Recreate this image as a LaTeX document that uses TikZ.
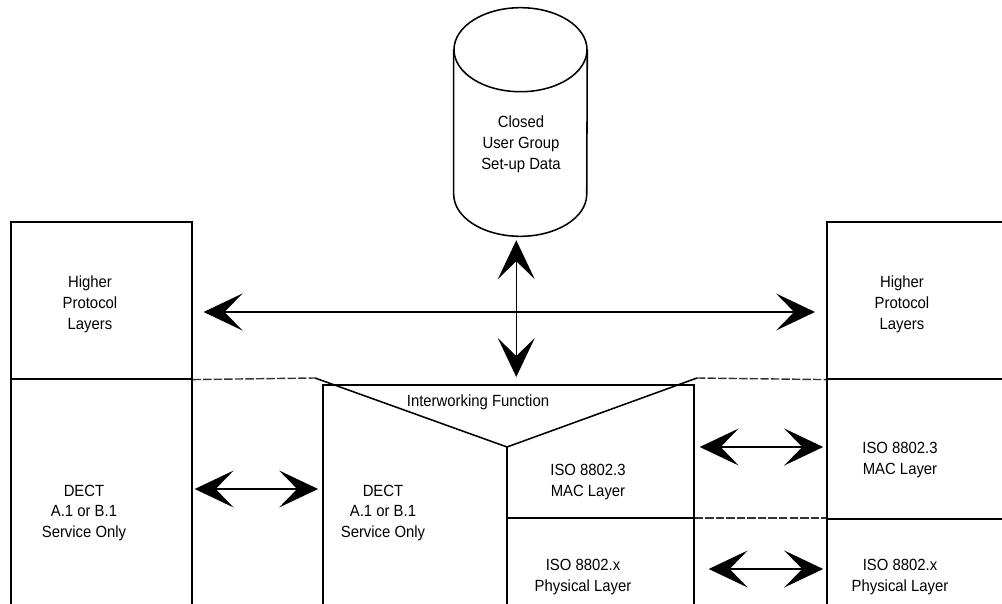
\documentclass[tikz,border=0pt]{standalone}
\usepackage{fontspec}
\setmainfont{Liberation Sans}[FakeStretch=0.92]
\usetikzlibrary{arrows.meta, positioning, shapes.geometric}

\begin{document}
\begin{tikzpicture}[
    x=0.025cm, y=-0.025cm,
    every node/.style={font=\fontsize{11.5}{14.9}\selectfont, align=center},
    cell/.style={rectangle, draw=black, line width=1.1pt, anchor=north west, inner sep=0pt},
    txt/.style={inner sep=0pt},
    link/.style={line width=1.1pt},
    ext/.style={black!80, line width=1pt, dash pattern=on 6pt off 1.5pt},
    biarrow/.style={{Stealth[length=27.7pt, width=26.3pt, inset=12.8pt]}-{Stealth[length=27.7pt, width=26.3pt, inset=12.8pt]}, line width=1pt}
]
\useasboundingbox (0,0) rectangle (1002,604);
\clip (0,0) rectangle (1002,604);

% --- left terminal ---
\node[cell, minimum width=4.525cm, minimum height=3.925cm] (hl) at (10,221) {};
\node[cell, minimum width=4.525cm, minimum height=6cm] (dl) at (10,378) {};

% --- interworking unit ---
\node[cell, minimum width=9.275cm, minimum height=6cm] (iwf) at (322,384) {};
\coordinate (fl) at (315,378);
\coordinate (fv) at (507,447);
\coordinate (fr) at (697,378);
\coordinate (ml) at (507,518);
\draw[link] (fl) -- (fv) -- (fr);
\draw[link] (fv) -- (fv |- iwf.south);
\draw[link] (ml) -- (ml -| iwf.east);

% --- right terminal ---
\node[cell, minimum width=5cm, minimum height=3.925cm] (hr) at (826,221) {};
\node[cell, minimum width=5cm, minimum height=3.5cm] (mr) at (826,378) {};
\node[cell, minimum width=5cm, minimum height=3cm] (pr) at (826,518) {};

% --- layer boundaries carried across ---
\draw[ext] (hl.south east) -- (fl);
\draw[ext] (fr) -- (hr.south west);
\draw[ext] (ml -| iwf.east) -- (pr.north west);

% --- CUG data store ---
\node[minimum width=3.325cm, minimum height=5.7cm, inner sep=0pt] (cug) at (520.5,122) {};
\draw[link] ([yshift=-1.05cm]cug.north west) -- ([yshift=1.05cm]cug.south west)
    arc[start angle=180, end angle=360, x radius=1.6625cm, y radius=1.05cm]
    -- ([yshift=-1.05cm]cug.north east);
\draw[link] ([yshift=-1.05cm]cug.north) ellipse[x radius=1.6625cm, y radius=1.05cm];

% --- Labels ---
\node[txt] (cugtxt) at (521,144) {Closed\\User Group\\Set-up Data};
\node[txt] (hltxt) at (90,304) {Higher\\Protocol\\Layers};
\node[txt] (hrtxt) at (902,304) {Higher\\Protocol\\Layers};
\node[txt] (dltxt) at (84,513) {DECT\\A.1 or B.1\\Service Only};
\node[txt] (dmtxt) at (383,513) {DECT\\A.1 or B.1\\Service Only};
\node[txt] (iwftxt) at (478,402) {Interworking Function};
\node[txt] (mmtxt) at (588,482) {ISO 8802.3\\MAC Layer};
\node[txt] (mrtxt) at (900,460) {ISO 8802.3\\MAC Layer};
\node[txt] (pmtxt) at (583,577) {ISO 8802.x\\Physical Layer};
\node[txt] (prtxt) at (900,577) {ISO 8802.x\\Physical Layer};

% --- Connections ---
\coordinate (hiy) at (0,312);
\coordinate (dy) at (0,489);
\coordinate (my) at (0,447);
\coordinate (py) at (0,569);
\draw[biarrow, shorten <=7.8pt, shorten >=7.8pt] (hl.east |- hiy) -- (hr.west |- hiy);
\draw[biarrow, shorten <=2.8pt, shorten >=5pt] ([xshift=-3pt]cug.south) -- ([xshift=-3pt]cug.south |- iwf.north);
\draw[biarrow, shorten <=1.5pt, shorten >=2.8pt] (dl.east |- dy) -- (iwf.west |- dy);
\draw[biarrow, shorten <=3.6pt, shorten >=2pt] (iwf.east |- my) -- (mr.west |- my);
\draw[biarrow, shorten <=10pt, shorten >=2pt] (iwf.east |- py) -- (pr.west |- py);
\end{tikzpicture}
\end{document}
